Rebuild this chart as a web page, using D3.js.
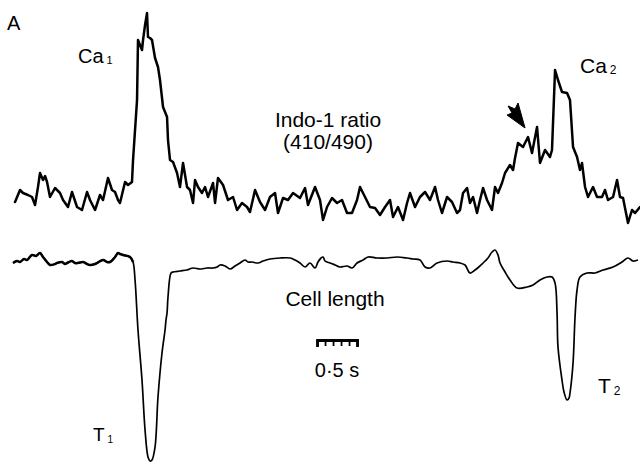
<!DOCTYPE html>
<html>
<head>
<meta charset="utf-8">
<script src="https://cdn.jsdelivr.net/npm/d3@7"></script>
<style>
  html, body { margin: 0; padding: 0; background: #fff; }
  svg { display: block; }
  text { font-family: "Liberation Sans", Arial, Helvetica, sans-serif; fill: #000; }
</style>
</head>
<body>
<svg id="fig" width="640" height="462"></svg>
<script>
// Indo-1 fluorescence ratio (410/490): sample times (s) and ratio values
const caTime = [
  0.188, 0.25, 0.288, 0.35, 0.4, 0.438, 0.475, 0.5, 0.538, 0.563, 0.588, 0.625,
  0.688, 0.75, 0.788, 0.85, 0.9, 0.963, 1.025, 1.088, 1.125, 1.188, 1.25, 1.288,
  1.35, 1.4, 1.438, 1.475, 1.5, 1.563, 1.6, 1.65, 1.663, 1.688, 1.713, 1.725,
  1.75, 1.775, 1.788, 1.813, 1.838, 1.85, 1.875, 1.9, 1.938, 1.975, 2.0, 2.038,
  2.088, 2.1, 2.125, 2.163, 2.213, 2.25, 2.288, 2.338, 2.375, 2.413, 2.438, 2.475,
  2.525, 2.563, 2.6, 2.663, 2.688, 2.725, 2.788, 2.85, 2.913, 2.963, 3.025, 3.088,
  3.125, 3.188, 3.25, 3.313, 3.375, 3.438, 3.475, 3.538, 3.6, 3.663, 3.75, 3.813,
  3.85, 3.938, 4.0, 4.038, 4.088, 4.15, 4.213, 4.275, 4.338, 4.4, 4.463, 4.5,
  4.563, 4.625, 4.688, 4.75, 4.813, 4.875, 4.913, 4.975, 5.038, 5.088, 5.125, 5.188,
  5.25, 5.313, 5.375, 5.438, 5.475, 5.525, 5.588, 5.65, 5.713, 5.75, 5.788, 5.838,
  5.875, 5.913, 5.963, 6.0, 6.038, 6.088, 6.15, 6.188, 6.225, 6.275, 6.313, 6.375,
  6.413, 6.438, 6.475, 6.538, 6.6, 6.65, 6.713, 6.75, 6.813, 6.875, 6.9, 6.938,
  6.975, 7.025, 7.088, 7.125, 7.163, 7.213, 7.25, 7.275, 7.313, 7.35, 7.413, 7.463,
  7.525, 7.563, 7.6, 7.663, 7.713, 7.75, 7.788, 7.85, 7.9, 7.938, 8.0
];
const caRatio = [
  0.98, 1.10, 1.07, 1.05, 1.03, 0.95, 1.13, 1.27, 1.20, 1.24, 1.18, 1.03,
  1.12, 1.07, 1.00, 0.93, 1.08, 0.93, 0.90, 1.08, 1.00, 0.90, 1.05, 1.00,
  1.22, 1.10, 1.08, 1.00, 0.97, 1.18, 1.15, 1.18, 1.40, 1.70, 2.00, 2.60,
  2.55, 2.50, 2.60, 2.75, 2.87, 2.63, 2.62, 2.60, 2.42, 2.33, 2.20, 1.93,
  1.83, 1.60, 1.40, 1.38, 1.27, 1.13, 1.37, 1.13, 1.10, 0.97, 1.20, 1.13,
  1.07, 1.13, 1.03, 1.17, 0.97, 1.22, 1.15, 1.00, 1.03, 0.90, 0.97, 0.93,
  0.88, 1.10, 0.98, 0.90, 1.03, 1.07, 0.87, 1.02, 1.00, 1.07, 1.02, 1.12,
  0.95, 1.13, 1.00, 0.80, 0.93, 1.02, 0.97, 1.00, 0.87, 0.87, 1.00, 1.13,
  1.03, 0.93, 0.92, 0.85, 0.93, 1.00, 0.83, 0.93, 0.80, 0.97, 1.07, 0.93,
  1.03, 1.08, 1.00, 1.13, 1.00, 0.87, 1.03, 0.98, 0.87, 0.90, 1.07, 1.12,
  0.97, 1.03, 0.87, 1.00, 1.12, 1.00, 0.90, 1.13, 1.07, 1.17, 1.27, 1.35,
  1.30, 1.42, 1.57, 1.53, 1.63, 1.47, 1.73, 1.37, 1.50, 1.43, 1.50, 2.30,
  2.20, 2.08, 2.07, 2.00, 1.53, 1.43, 1.30, 1.37, 1.13, 1.03, 1.13, 1.03,
  1.03, 1.10, 1.00, 1.03, 1.20, 1.03, 1.02, 0.77, 0.90, 0.87, 0.93
];

// Cell length: sample times (s) and length (µm)
const lenTime = [
  0.163, 0.213, 0.25, 0.3, 0.338, 0.4, 0.45, 0.5, 0.538, 0.588, 0.625, 0.688,
  0.713, 0.775, 0.813, 0.838, 0.9, 0.938, 0.975, 1.038, 1.088, 1.125, 1.188, 1.213,
  1.288, 1.338, 1.375, 1.438, 1.475, 1.5, 1.538, 1.625, 1.663, 1.688, 1.725, 1.775,
  1.813, 1.85, 1.875, 1.9, 1.938, 1.975, 2.025, 2.063, 2.075, 2.088, 2.1, 2.138,
  2.163, 2.25, 2.338, 2.413, 2.5, 2.588, 2.663, 2.713, 2.75, 2.813, 2.875, 2.938,
  3.0, 3.063, 3.1, 3.15, 3.225, 3.288, 3.375, 3.5, 3.625, 3.688, 3.75, 3.813,
  3.875, 3.938, 3.975, 4.013, 4.038, 4.063, 4.088, 4.125, 4.188, 4.25, 4.338, 4.4,
  4.463, 4.538, 4.6, 4.713, 4.838, 4.963, 5.088, 5.163, 5.25, 5.313, 5.375, 5.463,
  5.588, 5.663, 5.75, 5.813, 5.875, 5.938, 6.038, 6.1, 6.15, 6.188, 6.225, 6.25,
  6.313, 6.375, 6.463, 6.588, 6.663, 6.75, 6.838, 6.9, 6.938, 6.963, 6.975, 7.025,
  7.05, 7.088, 7.113, 7.125, 7.163, 7.188, 7.213, 7.25, 7.338, 7.438, 7.538, 7.663,
  7.775, 7.85, 7.913, 7.975
];
const lenValue = [
  93.7, 93.9, 93.8, 94.1, 94.0, 94.5, 94.4, 94.7, 94.3, 93.8, 93.5, 93.6,
  93.7, 93.8, 93.6, 93.7, 93.9, 93.7, 93.7, 93.8, 93.6, 93.5, 93.6, 93.7,
  94.0, 93.8, 93.8, 94.3, 94.7, 94.6, 94.5, 94.3, 93.8, 92.0, 87.0, 82.0,
  77.0, 74.3, 73.9, 74.0, 75.3, 80.3, 84.7, 87.0, 88.0, 88.7, 90.3, 92.7,
  92.8, 92.9, 93.0, 93.2, 93.1, 93.2, 93.2, 93.3, 93.5, 93.4, 93.1, 93.4,
  93.7, 94.0, 93.8, 93.8, 93.7, 93.9, 94.1, 94.2, 94.2, 94.0, 93.7, 93.3,
  93.7, 93.2, 93.8, 94.2, 94.3, 93.9, 93.8, 93.7, 93.5, 93.3, 93.4, 93.2,
  93.7, 94.0, 94.3, 94.2, 94.2, 94.3, 94.2, 94.1, 94.0, 93.3, 93.2, 93.7,
  93.9, 93.8, 93.7, 93.5, 92.7, 93.0, 93.7, 94.2, 94.8, 95.0, 94.5, 93.7,
  92.8, 92.0, 91.2, 91.3, 91.5, 92.0, 92.3, 92.3, 91.7, 88.7, 85.3, 82.0,
  80.8, 80.0, 80.2, 80.7, 83.7, 88.3, 91.0, 92.3, 92.7, 92.7, 93.0, 93.3,
  93.8, 94.2, 93.9, 94.0
];

// Calibration bar
const barStart = 3.963;            // s
const barDuration = 0.5;           // s
const barTickStep = 0.1;           // s
const barLabel = "0·5 s";

// Arrow marking the early rise before the second transient
const arrowTime = 6.563;           // s
const arrowRatio = 1.72;

const svg = d3.select("#fig");

// Shared time axis; each trace gets its own vertical scale
const x = d3.scaleLinear().domain([0, 8]).range([0, 640]);
const yCa = d3.scaleLinear().domain([0.7, 2.9]).range([230, 10]);
const yLen = d3.scaleLinear().domain([73, 96]).range([470, 240]);

const caData = caTime.map((t, i) => [t, caRatio[i]]);
const lenData = lenTime.map((t, i) => [t, lenValue[i]]);

svg.append("path")
  .datum(caData)
  .attr("fill", "none")
  .attr("stroke", "#000")
  .attr("stroke-width", 2.5)
  .attr("stroke-linejoin", "round")
  .attr("stroke-linecap", "round")
  .attr("d", d3.line().x(d => x(d[0])).y(d => yCa(d[1])));

const lenLine = d3.line().curve(d3.curveCatmullRom.alpha(0.5))
  .x(d => x(d[0])).y(d => yLen(d[1]));

svg.append("path")
  .datum(lenData)
  .attr("fill", "none")
  .attr("stroke", "#000")
  .attr("stroke-width", 1.7)
  .attr("stroke-linejoin", "round")
  .attr("d", lenLine);

// the resting stretch before the first twitch is recorded with a heavier pen
svg.append("path")
  .datum(lenData.filter(d => d[0] <= 1.663))
  .attr("fill", "none")
  .attr("stroke", "#000")
  .attr("stroke-width", 2.5)
  .attr("stroke-linejoin", "round")
  .attr("d", lenLine);

// Calibration bar drawn as a short comb-like axis
const barScale = d3.scaleLinear()
  .domain([barStart, barStart + barDuration])
  .range([x(barStart), x(barStart + barDuration)]);
const barTicks = d3.range(0, barDuration + 1e-9, barTickStep).map(v => barStart + v);
const barG = svg.append("g")
  .attr("transform", "translate(0,340)")
  .call(d3.axisBottom(barScale).tickValues(barTicks).tickSize(6).tickSizeOuter(7).tickFormat(""));
barG.select(".domain").attr("stroke-width", 2.8);
barG.selectAll(".tick line").attr("stroke-width", 1.8);

svg.append("text")
  .attr("x", (x(barStart) + x(barStart + barDuration)) / 2)
  .attr("y", 377)
  .attr("text-anchor", "middle")
  .attr("font-size", 20)
  .text(barLabel);

// Arrow
const ax = x(arrowTime), ay = yCa(arrowRatio);
svg.append("path")
  .attr("fill", "#000")
  .attr("stroke", "#000")
  .attr("stroke-width", 1)
  .attr("stroke-linejoin", "round")
  .attr("d", `M${ax},${ay} L${ax - 18},${ay - 13} L${ax - 13},${ay - 15} L${ax - 17},${ay - 22} L${ax - 10},${ay - 19} L${ax - 7},${ay - 25} Z`);

// Labels
function label(txt, sub, px, py, size, subSize, subDy) {
  const t = svg.append("text").attr("x", px).attr("y", py).attr("font-size", size);
  t.append("tspan").text(txt);
  if (sub) {
    t.append("tspan").attr("font-size", subSize).attr("dx", 3).attr("dy", subDy).text(sub);
  }
  return t;
}

label("A", null, 7, 30, 20);
label("Ca", "1", 78, 63, 20, 11, 1);
label("Ca", "2", 580, 73, 21, 12, 1);
label("T", "1", 93, 441, 19, 10, 2);
label("T", "2", 598, 393, 21, 12, 2);

svg.append("text").attr("x", 328).attr("y", 127).attr("text-anchor", "middle")
  .attr("font-size", 21).text("Indo-1 ratio");
svg.append("text").attr("x", 328).attr("y", 149).attr("text-anchor", "middle")
  .attr("font-size", 21).text("(410/490)");
svg.append("text").attr("x", 335).attr("y", 306).attr("text-anchor", "middle")
  .attr("font-size", 21).text("Cell length");
</script>
</body>
</html>
